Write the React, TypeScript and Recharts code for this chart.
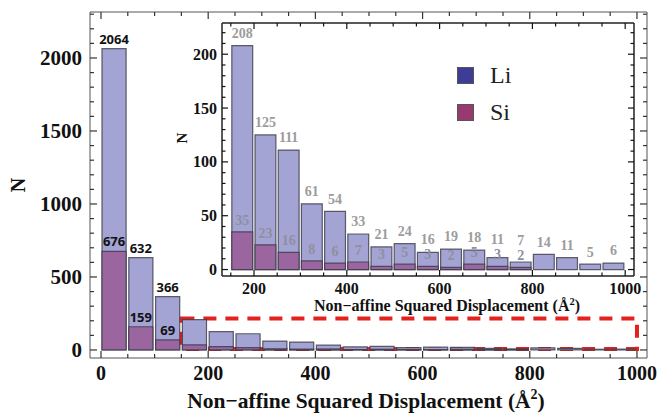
import {
  ComposedChart,
  Bar,
  XAxis,
  YAxis,
  ReferenceArea,
  LabelList,
  Label,
  Legend,
} from "recharts";

// histogram bins (Å^2), width 50
const binStarts = [0, 50, 100, 150, 200, 250, 300, 350, 400, 450, 500, 550, 600, 650, 700, 750, 800, 850, 900, 950];
const liCounts = [2064, 632, 366, 208, 125, 111, 61, 54, 33, 21, 24, 16, 19, 18, 11, 7, 14, 11, 5, 6];
const siCounts = [676, 159, 69, 35, 23, 16, 8, 6, 7, 3, 5, 3, 2, 5, 3, 2, 0, 0, 0, 0];

const seriesNames = ["Li", "Si"];
const legendColors = ["#3d3d98", "#983a6f"];

const mainXTicks = [0, 50, 100, 150, 200, 250, 300, 350, 400, 450, 500, 550, 600, 650, 700, 750, 800, 850, 900, 950, 1000];
const mainYTicks = [0, 100, 200, 300, 400, 500, 600, 700, 800, 900, 1000, 1100, 1200, 1300, 1400, 1500, 1600, 1700, 1800, 1900, 2000, 2100, 2200, 2300];
const insetXTicks = [150, 200, 250, 300, 350, 400, 450, 500, 550, 600, 650, 700, 750, 800, 850, 900, 950, 1000];
const insetYTicks = [0, 10, 20, 30, 40, 50, 60, 70, 80, 90, 100, 110, 120, 130, 140, 150, 160, 170, 180, 190, 200, 210, 220];

const BIN = 50;
const SERIF = "'Liberation Serif', 'Times New Roman', serif";
const LI_FILL = "#a3a3d4";
const SI_FILL = "#9b669f";
const EDGE = "#3a3a48";

const rows = binStarts.map((start, i) => ({
  mid: start + BIN / 2,
  li: liCounts[i],
  si: siCounts[i],
}));
const insetRows = rows.filter((r) => r.mid > 150);

// main plot: x 90..647, y 12..358
const mainXDomain: [number, number] = [-20.5, 1018.7];
const mainYDomain: [number, number] = [-55, 2315];
const mainBarW = (BIN * 557) / (mainXDomain[1] - mainXDomain[0]);

// inset plot (inside its 495x310 box): x 72..484, y 13..266
const insetXDomain: [number, number] = [131, 1019];
const insetYDomain: [number, number] = [-6, 229];
const insetBarW = (BIN * 412) / (insetXDomain[1] - insetXDomain[0]);

type TickOpts = {
  step: number;
  major: number;
  minor: number;
  color: string;
  width: number;
  label?: boolean;
  gap?: number;
  fontSize?: number;
};

function frameTick(side: "bottom" | "top" | "left" | "right", o: TickOpts) {
  return (p: any) => {
    const x = Number(p.x);
    const y = Number(p.y);
    const v = p.payload.value;
    const isMajor = Math.abs(v / o.step - Math.round(v / o.step)) < 1e-6;
    const len = isMajor ? o.major : o.minor;
    const d =
      side === "bottom" ? [0, -len] : side === "top" ? [0, len] : side === "left" ? [len, 0] : [-len, 0];
    let txt = null;
    if (o.label && isMajor) {
      txt =
        side === "bottom" ? (
          <text x={x} y={y + (o.gap || 0)} textAnchor="middle" fontFamily={SERIF} fontWeight="bold" fontSize={o.fontSize} fill="#111">
            {v}
          </text>
        ) : (
          <text x={x - (o.gap || 0)} y={y} dy="0.35em" textAnchor="end" fontFamily={SERIF} fontWeight="bold" fontSize={o.fontSize} fill="#111">
            {v}
          </text>
        );
    }
    return (
      <g>
        <path d={`M${x},${y}l${d[0]},${d[1]}`} stroke={o.color} strokeWidth={o.width} fill="none" />
        {txt}
      </g>
    );
  };
}

const mainLabel = (p: any) => {
  if (p.index >= 3) return null;
  const vb = p.viewBox;
  return (
    <text x={vb.x + vb.width / 2} y={vb.y - 5} textAnchor="middle" fontFamily="'Open Sans', sans-serif" fontWeight={700} fontSize={13} fill="#111">
      {p.value}
    </text>
  );
};

// Li label: sits above the bar, lifted if it would crowd the Si label
const insetLiLabel = (p: any) => {
  const vb = p.viewBox;
  const row = insetRows[p.index];
  const base = vb.y + vb.height;
  const perUnit = vb.height / row.li;
  let cy = vb.y - 12.5;
  if (row.si) {
    const siCy = base - row.si * perUnit - 12;
    if (siCy - cy < 15) cy = siCy - 15;
  }
  return (
    <text x={vb.x + vb.width / 2} y={cy} dy="0.35em" textAnchor="middle" fontFamily={SERIF} fontWeight="bold" fontSize={14} fill="#9c9c9c">
      {p.value}
    </text>
  );
};

const insetSiLabel = (p: any) => {
  if (!p.value) return null;
  const vb = p.viewBox;
  return (
    <text x={vb.x + vb.width / 2} y={vb.y - 12} dy="0.35em" textAnchor="middle" fontFamily={SERIF} fontWeight="bold" fontSize={14} fill="#8f8f9f">
      {p.value}
    </text>
  );
};

function Title({ x, y, size, supSize }: { x: number; y: number; size: number; supSize: number }) {
  return (
    <text x={x} y={y} textAnchor="middle" fontFamily={SERIF} fontWeight="bold" fontSize={size} fill="#111">
      Non−affine Squared Displacement (Å
      <tspan dy={-size * 0.4} fontSize={supSize}>2</tspan>
      <tspan dy={size * 0.4}>)</tspan>
    </text>
  );
}

function InsetLegend() {
  return (
    <div style={{ fontFamily: SERIF, fontSize: 24, color: "#222" }}>
      {seriesNames.map((name, i) => (
        <div key={name} style={{ display: "flex", alignItems: "center", height: 37 }}>
          <span
            style={{
              display: "inline-block",
              width: 15,
              height: 15,
              background: legendColors[i],
              border: "1px solid #555",
              marginRight: 16,
            }}
          />
          {name}
        </div>
      ))}
    </div>
  );
}

export default function App() {
  const mainTick = { major: 7, minor: 4, color: "#333", width: 1.2 };
  const insetTick = { major: 6, minor: 3.5, color: "#111", width: 1.2 };
  return (
    <div style={{ position: "absolute", left: 0, top: 0, width: 660, height: 416, background: "#fff" }}>
      <ComposedChart width={660} height={416} data={rows} margin={{ top: 0, right: 0, bottom: 0, left: 0 }}>
        <XAxis
          xAxisId="b"
          orientation="bottom"
          type="number"
          dataKey="mid"
          domain={mainXDomain}
          allowDataOverflow
          ticks={mainXTicks}
          interval={0}
          height={58}
          tickSize={0}
          tickMargin={0}
          tickLine={false}
          stroke="#555"
          axisLine={{ stroke: "#555", strokeWidth: 1 }}
          tick={frameTick("bottom", { ...mainTick, step: 200, label: true, gap: 22, fontSize: 20 })}
        >
          <Label content={() => <Title x={366} y={408} size={21.5} supSize={14} />} />
        </XAxis>
        <XAxis
          xAxisId="t"
          orientation="top"
          type="number"
          dataKey="mid"
          domain={mainXDomain}
          allowDataOverflow
          ticks={mainXTicks}
          interval={0}
          height={12}
          tickSize={0}
          tickMargin={0}
          tickLine={false}
          stroke="#555"
          axisLine={{ stroke: "#555", strokeWidth: 1 }}
          tick={frameTick("top", { ...mainTick, step: 200 })}
        />
        <YAxis
          yAxisId="l"
          orientation="left"
          type="number"
          domain={mainYDomain}
          allowDataOverflow
          ticks={mainYTicks}
          interval={0}
          width={90}
          tickSize={0}
          tickMargin={0}
          tickLine={false}
          stroke="#555"
          axisLine={{ stroke: "#555", strokeWidth: 1 }}
          tick={frameTick("left", { ...mainTick, step: 500, label: true, gap: 8, fontSize: 21 })}
        >
          <Label
            content={() => (
              <text x={18} y={185} transform="rotate(-90 18 185)" textAnchor="middle" dominantBaseline="central" fontFamily={SERIF} fontWeight="bold" fontSize={20} fill="#111">
                N
              </text>
            )}
          />
        </YAxis>
        <YAxis
          yAxisId="r"
          orientation="right"
          type="number"
          domain={mainYDomain}
          allowDataOverflow
          ticks={mainYTicks}
          interval={0}
          width={13}
          tickSize={0}
          tickMargin={0}
          tickLine={false}
          stroke="#555"
          axisLine={{ stroke: "#555", strokeWidth: 1 }}
          tick={frameTick("right", { ...mainTick, step: 500 })}
        />
        <Bar xAxisId="b" yAxisId="l" dataKey="li" name="Li" barSize={mainBarW} fill={LI_FILL} stroke={EDGE} strokeWidth={1.2} strokeOpacity={0.8} isAnimationActive={false}>
          <LabelList content={mainLabel} />
        </Bar>
        <Bar xAxisId="t" yAxisId="l" dataKey="si" name="Si" barSize={mainBarW} fill={SI_FILL} stroke={EDGE} strokeWidth={1.2} strokeOpacity={0.8} isAnimationActive={false}>
          <LabelList content={mainLabel} />
        </Bar>
        <ReferenceArea
          xAxisId="b"
          yAxisId="l"
          x1={150}
          x2={1000}
          y1={7}
          y2={216}
          fill="none"
          fillOpacity={0}
          stroke="#e3211d"
          strokeWidth={4}
          strokeDasharray="13 9"
        />
      </ComposedChart>

      <div style={{ position: "absolute", left: 150, top: 10, width: 495, height: 310 }}>
        <ComposedChart width={495} height={310} data={insetRows} margin={{ top: 0, right: 0, bottom: 0, left: 0 }}>
          <XAxis
            xAxisId="b"
            orientation="bottom"
            type="number"
            dataKey="mid"
            domain={insetXDomain}
            allowDataOverflow
            ticks={insetXTicks}
            interval={0}
            height={44}
            tickSize={0}
            tickMargin={0}
            tickLine={false}
            stroke="#222"
            axisLine={{ stroke: "#222", strokeWidth: 1.5 }}
            tick={frameTick("bottom", { ...insetTick, step: 200, label: true, gap: 18, fontSize: 16 })}
          >
            <Label content={() => <Title x={297} y={301} size={16} supSize={10.5} />} />
          </XAxis>
          <XAxis
            xAxisId="t"
            orientation="top"
            type="number"
            dataKey="mid"
            domain={insetXDomain}
            allowDataOverflow
            ticks={insetXTicks}
            interval={0}
            height={13}
            tickSize={0}
            tickMargin={0}
            tickLine={false}
            stroke="#222"
            axisLine={{ stroke: "#222", strokeWidth: 1.5 }}
            tick={frameTick("top", { ...insetTick, step: 200 })}
          />
          <YAxis
            yAxisId="l"
            orientation="left"
            type="number"
            domain={insetYDomain}
            allowDataOverflow
            ticks={insetYTicks}
            interval={0}
            width={72}
            tickSize={0}
            tickMargin={0}
            tickLine={false}
            stroke="#222"
            axisLine={{ stroke: "#222", strokeWidth: 1.5 }}
            tick={frameTick("left", { ...insetTick, step: 50, label: true, gap: 5, fontSize: 16 })}
          >
            <Label
              content={() => (
                <text x={32} y={128} transform="rotate(-90 32 128)" textAnchor="middle" dominantBaseline="central" fontFamily={SERIF} fontWeight="bold" fontSize={15} fill="#111">
                  N
                </text>
              )}
            />
          </YAxis>
          <YAxis
            yAxisId="r"
            orientation="right"
            type="number"
            domain={insetYDomain}
            allowDataOverflow
            ticks={insetYTicks}
            interval={0}
            width={11}
            tickSize={0}
            tickMargin={0}
            tickLine={false}
            stroke="#222"
            axisLine={{ stroke: "#222", strokeWidth: 1.5 }}
            tick={frameTick("right", { ...insetTick, step: 50 })}
          />
          <Legend layout="horizontal" verticalAlign="middle" align="center" wrapperStyle={{ left: 307, top: 47, width: 120 }} content={() => <InsetLegend />} />
          <Bar xAxisId="b" yAxisId="l" dataKey="li" name="Li" barSize={insetBarW} fill={LI_FILL} stroke={EDGE} strokeWidth={1.2} strokeOpacity={0.8} isAnimationActive={false}>
            <LabelList content={insetLiLabel} />
          </Bar>
          <Bar xAxisId="t" yAxisId="l" dataKey="si" name="Si" barSize={insetBarW} fill={SI_FILL} stroke={EDGE} strokeWidth={1.2} strokeOpacity={0.8} isAnimationActive={false}>
            <LabelList content={insetSiLabel} />
          </Bar>
        </ComposedChart>
      </div>
    </div>
  );
}
